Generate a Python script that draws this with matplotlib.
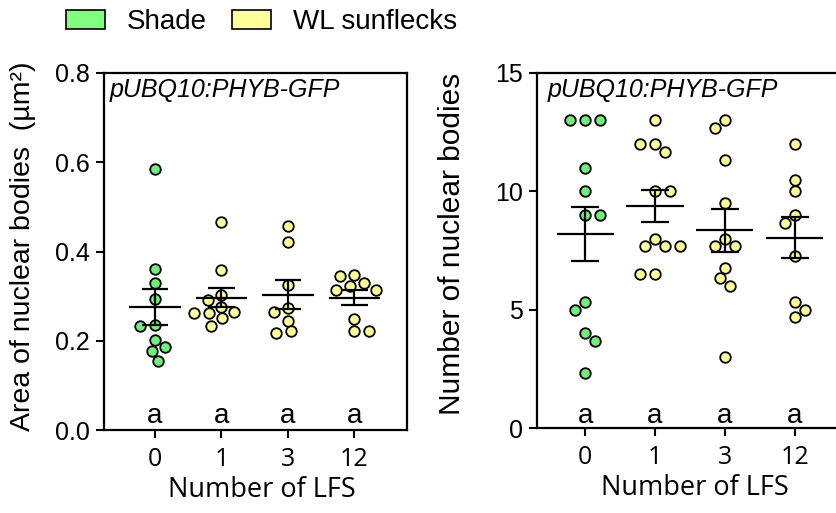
import numpy as np
import matplotlib
matplotlib.use('Agg')
import matplotlib.pyplot as plt
from matplotlib.patches import Patch

plt.rcParams['font.family'] = ['Liberation Sans', 'DejaVu Sans']

groups = ['0', '1', '3', '12']
letters = ['a', 'a', 'a', 'a']
legend_labels = ['Shade', 'WL sunflecks']

# area of nuclear bodies (um2), one list per LFS group
area_0 = [0.584, 0.360, 0.330, 0.294, 0.235, 0.232, 0.202, 0.185, 0.176, 0.155]
area_1 = [0.467, 0.359, 0.302, 0.291, 0.276, 0.264, 0.262, 0.262, 0.250, 0.234]
area_3 = [0.458, 0.422, 0.325, 0.273, 0.264, 0.245, 0.222, 0.218]
area_12 = [0.347, 0.345, 0.329, 0.323, 0.314, 0.314, 0.248, 0.222, 0.222]

# number of nuclear bodies
count_0 = [13, 13, 13, 11, 10, 9, 9, 5.33, 5, 4, 3.67, 2.33]
count_1 = [13, 12, 12, 11.67, 10, 10, 8, 7.67, 7.67, 7.67, 6.5, 6.5]
count_3 = [13, 12.67, 11.33, 9.5, 8, 7.67, 7.67, 6.75, 6.33, 6, 3]
count_12 = [12, 10.5, 10, 9, 8.67, 7.25, 5.33, 5, 4.67]

area_data = [area_0, area_1, area_3, area_12]
count_data = [count_0, count_1, count_3, count_12]

shade_fill = '#80FF80'
shade_dot = '#72EC7C'
wl_fill = '#FFFF99'
dot_colors = [shade_dot, wl_fill, wl_fill, wl_fill]


def swarm_x(ax, xc, vals, dx_px=15, dy_px=10.5):
    vals = np.asarray(vals, dtype=float)
    pix = ax.transData.transform(np.column_stack([np.full(len(vals), xc), vals]))
    ys = pix[:, 1]
    order = np.argsort(-vals, kind='stable')
    offs = np.zeros(len(vals))
    placed = []
    side = -1
    for i in order:
        forb = []
        for ox, oy in placed:
            d = abs(ys[i] - oy)
            if d < dy_px:
                w = dx_px * np.sqrt(1 - (d / dy_px) ** 2)
                forb.append((ox - w, ox + w))
        cands = [0.0] + [e for iv in forb for e in iv]
        free = [c for c in cands if all(not (a + 1e-6 < c < b - 1e-6) for a, b in forb)]
        best = min(abs(c) for c in free)
        opts = [c for c in free if abs(abs(c) - best) < 1e-6]
        if len(opts) > 1:
            pick = min(opts) if side < 0 else max(opts)
            side = -side
        else:
            pick = opts[0]
        offs[i] = pick
        placed.append((pick, ys[i]))
    inv = ax.transData.inverted()
    return inv.transform(np.column_stack([pix[:, 0] + offs, ys]))[:, 0]


def panel(ax, data, ylim, yticks, yfmt, ylabel, half, letter_y, label_xy, label_size):
    ax.set_xlim(*half['xlim'])
    ax.set_ylim(*ylim)
    for i, vals in enumerate(data):
        xs = swarm_x(ax, i, vals)
        ax.plot(xs, vals, 'o', ms=7.6, mfc=dot_colors[i], mec='black', mew=1.3,
                zorder=2, clip_on=False)
        m = np.mean(vals)
        s = np.std(vals, ddof=1) / np.sqrt(len(vals))
        ax.hlines(m, i - half['mean'], i + half['mean'], color='black', lw=1.6, zorder=3)
        ax.vlines(i, m - s, m + s, color='black', lw=1.6, zorder=3)
        ax.hlines([m - s, m + s], i - 0.2, i + 0.2, color='black', lw=1.6, zorder=3)
        ax.text(i, letter_y, letters[i], ha='center', va='baseline', fontsize=20)

    ax.set_xticks(range(len(groups)))
    ax.set_xticklabels(groups, fontsize=18, family=['Open Sans', 'DejaVu Sans'])
    ax.set_yticks(yticks)
    ax.set_yticklabels([yfmt.format(t) for t in yticks], fontsize=18)
    ax.tick_params(direction='out', length=6, width=1.5, pad=4)
    ax.tick_params(axis='x', pad=6)
    for sp in ax.spines.values():
        sp.set_linewidth(1.6)
    ax.set_ylabel(ylabel, fontsize=label_size)
    ax.yaxis.set_label_coords(*label_xy)
    ax.set_xlabel('Number of LFS', fontsize=19.5, family=['Open Sans', 'DejaVu Sans'])
    ax.xaxis.set_label_coords(0.52, -0.13)
    ax.text(half['tx'], 0.985, 'pUBQ10:PHYB-GFP', transform=ax.transAxes,
            ha='left', va='top', fontsize=18, style='italic')


fig = plt.figure(figsize=(8.37, 5.13), dpi=100)
ax1 = fig.add_axes([104 / 837, 1 - 430 / 513, 303 / 837, 357 / 513])
ax2 = fig.add_axes([537 / 837, 1 - 428 / 513, 303 / 837, 355 / 513])

panel(ax1, area_data, (0, 0.8), [0, 0.2, 0.4, 0.6, 0.8], '{:.1f}',
      'Area of nuclear bodies  (\u00b5m\u00b2)',
      {'xlim': (-0.767, 3.79), 'mean': 0.39, 'tx': 0.02}, 0.016, (-0.225, 0.515), 20.5)
panel(ax2, count_data, (0, 15), [0, 5, 10, 15], '{:.0f}',
      'Number of nuclear bodies',
      {'xlim': (-0.69, 3.65), 'mean': 0.41, 'tx': 0.036}, 0.22, (-0.235, 0.52), 21.5)

handles = [Patch(facecolor=shade_fill, edgecolor='black', lw=1.2),
           Patch(facecolor=wl_fill, edgecolor='black', lw=1.2)]
fig.legend(handles, legend_labels, loc='center left', bbox_to_anchor=(66 / 837, 1 - 22 / 513),
           ncol=2, frameon=False, fontsize=20, handlelength=1.4, handleheight=0.68,
           handletextpad=0.8, columnspacing=0.9, borderpad=0, borderaxespad=0)

fig.savefig('out.png', dpi=100)
